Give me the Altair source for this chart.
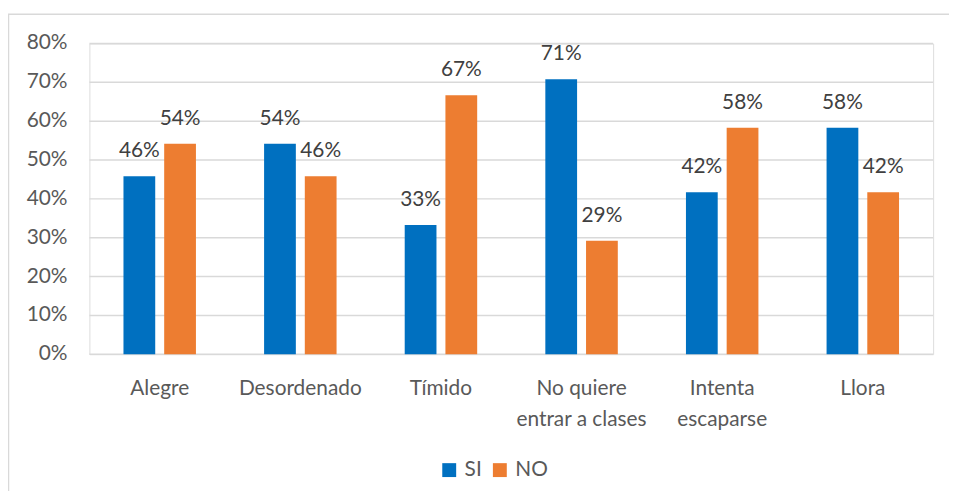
import altair as alt
import pandas as pd

categories = ["Alegre", "Desordenado", "Tímido", "No quiere entrar a clases", "Intenta escaparse", "Llora"]
si_values = [0.458, 0.542, 0.333, 0.708, 0.417, 0.583]
no_values = [0.542, 0.458, 0.667, 0.292, 0.583, 0.417]
series = ["SI", "NO"]
colors = ["#0070C0", "#ED7D31"]
y_ticks = [0.0, 0.1, 0.2, 0.3, 0.4, 0.5, 0.6, 0.7, 0.8]

rows = []
for c, s, n in zip(categories, si_values, no_values):
    rows.append({"Categoria": c, "Serie": "SI", "Valor": s})
    rows.append({"Categoria": c, "Serie": "NO", "Valor": n})
df = pd.DataFrame(rows)
ticks_df = pd.DataFrame({"Valor": y_ticks})

FONT = "Lato"
FS = 21

label_expr = ("datum.label == 'No quiere entrar a clases' ? ['No quiere', 'entrar a clases'] : "
              "datum.label == 'Intenta escaparse' ? ['Intenta', 'escaparse'] : datum.label")

x_enc = alt.X("Categoria:N", sort=categories, title=None,
              scale=alt.Scale(paddingInner=0, paddingOuter=0),
              axis=alt.Axis(labelAngle=0, labelFont=FONT, labelFontSize=FS, labelColor="#595959",
                            labelPadding=24, labelLineHeight=31, ticks=False, domain=False,
                            labelOverlap=False, labelExpr=label_expr))
xoff_enc = alt.XOffset("Serie:N", sort=series,
                       scale=alt.Scale(paddingInner=0.22, paddingOuter=0.837))
y_scale = alt.Scale(domain=[0, 0.8], nice=False)
y_enc = alt.Y("Valor:Q", title=None, scale=y_scale, axis=None)

grid = alt.Chart(ticks_df).mark_rule(color="#d9d9d9", strokeWidth=1.5).encode(
    y=alt.Y("Valor:Q", scale=y_scale, axis=None),
    x=alt.value(0), x2=alt.value(850),
)

ylabels = alt.Chart(ticks_df).mark_text(
    align="right", baseline="middle", font=FONT, fontSize=FS, color="#595959"
).encode(
    y=alt.Y("Valor:Q", scale=y_scale, axis=None),
    x=alt.value(-22),
    text=alt.Text("Valor:Q", format=".0%"),
)

base = alt.Chart(df)

bars = base.mark_bar().encode(
    x=x_enc,
    xOffset=xoff_enc,
    y=y_enc,
    color=alt.Color("Serie:N", sort=series, title=None,
                    scale=alt.Scale(domain=series, range=colors),
                    legend=alt.Legend(orient="none", direction="horizontal",
                                      legendX=352, legendY=419,
                                      symbolType="square", symbolSize=196,
                                      symbolStrokeWidth=0,
                                      labelFont=FONT, labelFontSize=FS, labelColor="#595959",
                                      columnPadding=7, labelOffset=5)),
)

labels = base.mark_text(baseline="bottom", dy=-15, font=FONT, fontSize=FS, color="#404040").encode(
    x=x_enc,
    xOffset=xoff_enc,
    y=y_enc,
    text=alt.Text("Valor:Q", format=".0%"),
)

frame = alt.Chart(pd.DataFrame({"f": [0]})).mark_rect(
    fill=None, stroke="#d9d9d9", strokeWidth=1.5
).encode(
    x=alt.value(-81.5), x2=alt.value(880), y=alt.value(-29.5), y2=alt.value(600)
)

chart = alt.layer(grid, ylabels, bars, labels, frame).properties(
    width=850, height=313,
    padding={"left": 82, "top": 34, "right": 16, "bottom": 136},
    autosize=alt.AutoSizeParams(type="none"),
).configure_view(stroke=None).configure(background="white")

chart.save("out.html", embed_options={"renderer": "svg", "actions": False})
